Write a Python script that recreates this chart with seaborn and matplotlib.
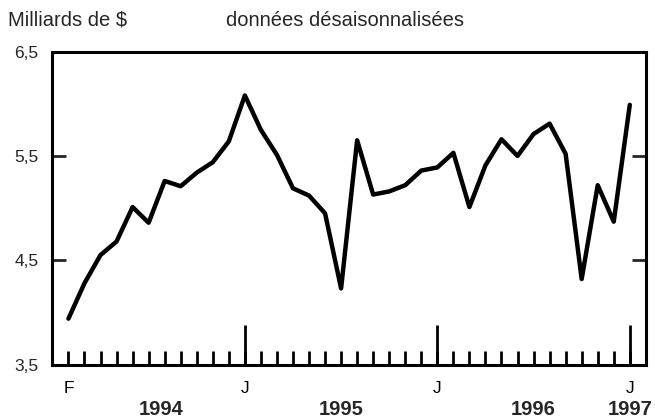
import matplotlib
matplotlib.use("Agg")
import matplotlib.pyplot as plt
import matplotlib.transforms as mtransforms
import seaborn as sns
import pandas as pd

# monthly values, Feb 1994 .. Jan 1997 (milliards de $)
months = pd.date_range("1994-02-01", "1997-01-01", freq="MS")
values = [3.94, 4.28, 4.55, 4.68, 5.01, 4.86, 5.26, 5.21, 5.34, 5.44, 5.64,
          6.08, 5.75, 5.51, 5.19, 5.12, 4.95, 4.23, 5.65, 5.13, 5.16, 5.22,
          5.36, 5.39, 5.53, 5.01, 5.41, 5.66, 5.50, 5.71, 5.81, 5.52, 4.32,
          5.22, 4.87, 5.99]
y_ticks = [3.5, 4.5, 5.5, 6.5]
y_labels = ["3,5", "4,5", "5,5", "6,5"]
years = ["1994", "1995", "1996", "1997"]
year_pos = [5.8, 17, 29, 35]

df = pd.DataFrame({"idx": range(len(values)), "val": values})

sns.set_style("white")
plt.rcParams["font.family"] = ["Liberation Sans", "DejaVu Sans"]

fig = plt.figure(figsize=(6.55, 4.2), dpi=100)
ax = fig.add_axes([0.080, 0.132, 0.906, 0.745])

sns.lineplot(data=df, x="idx", y="val", color="black", linewidth=3.2, ax=ax)

ax.set_xlim(-1, len(values))
ax.set_ylim(3.5, 6.5)
ax.set_xlabel("")
ax.set_ylabel("")

# month ticks, letters at F and each January
xlabels = []
for m in months:
    if m.month == 2 and m.year == 1994:
        xlabels.append("F")
    elif m.month == 1:
        xlabels.append("J")
    else:
        xlabels.append("")
ax.set_xticks(range(len(values)), xlabels)
# long ticks at each January (keep them even though they overlap month ticks)
ax.xaxis.remove_overlapping_locs = False
ax.set_xticks([i for i, m in enumerate(months) if m.month == 1], minor=True)
ax.tick_params(axis="x", which="major", direction="in", length=10, width=2,
               pad=12, labelsize=12.5, bottom=True, colors="black")
ax.tick_params(axis="x", which="minor", direction="in", length=29, width=2,
               bottom=True, colors="black")

ax.set_yticks(y_ticks, y_labels)
ax.tick_params(axis="y", which="major", direction="in", length=10, width=2,
               pad=10, labelsize=12.5, left=True, right=True)

for s in ax.spines.values():
    s.set_linewidth(2.2)
    s.set_color("black")

trans = mtransforms.blended_transform_factory(ax.transData, ax.transAxes)
for yr, p in zip(years, year_pos):
    ax.text(p, -0.145, yr, transform=trans, ha="center", va="center",
            fontsize=14.5, fontweight="bold")

fig.text(0.012, 0.952, "Milliards de $", fontsize=14.5, va="center")
fig.text(0.345, 0.952, "données désaisonnalisées", fontsize=14.5, va="center")

fig.savefig("out.png", dpi=100)
